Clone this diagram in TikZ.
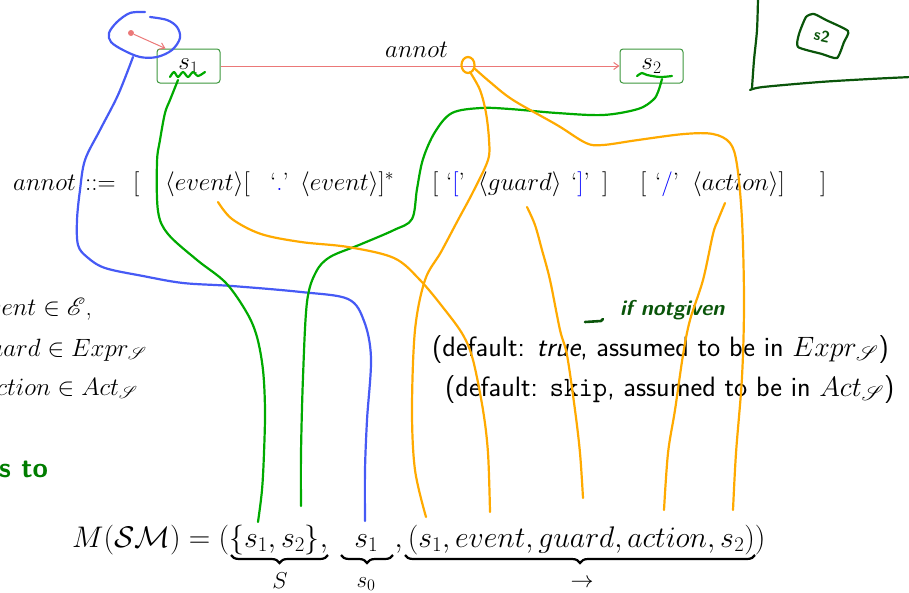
\RequirePackage{fix-cm}
\documentclass[tikz,border=0pt]{standalone}
\usepackage{mathrsfs}
\usetikzlibrary{arrows.meta,decorations.pathreplacing}
\definecolor{penblue}{RGB}{70,90,245}
\definecolor{pengreen}{RGB}{0,170,0}
\definecolor{penorange}{RGB}{255,170,0}
\definecolor{pendark}{RGB}{10,85,10}
\definecolor{boxgreen}{RGB}{60,150,60}
\definecolor{transred}{RGB}{235,120,120}
\definecolor{structgreen}{RGB}{0,125,0}
\begin{document}
\begin{tikzpicture}[x=1pt,y=-1pt,
  txt/.style={inner sep=0pt, anchor=base west, font=\fontsize{25}{30}\selectfont},
  txtr/.style={inner sep=0pt, anchor=base east, font=\fontsize{25}{30}\selectfont},
  sans/.style={inner sep=0pt, anchor=base west, font=\fontsize{28}{33}\selectfont\sffamily},
  statebox/.style={draw=boxgreen, line width=1pt, rounded corners=3pt, minimum width=63pt, minimum height=34pt, inner sep=0pt, font=\fontsize{25}{30}\selectfont},
  trans/.style={draw=transred, line width=1pt, -{Straight Barb[length=5pt,width=7pt]}},
  hand/.style={line width=2.2pt, line cap=round, line join=round},
  bluepen/.style={hand, draw=penblue},
  greenpen/.style={hand, draw=pengreen},
  orangepen/.style={hand, draw=penorange},
  darkpen/.style={hand, draw=pendark},
  ubrace/.style={draw=black, line width=2.2pt, decorate, decoration={brace, amplitude=8pt, aspect=0.5}},
  blabel/.style={inner sep=0pt, font=\fontsize{23}{27}\selectfont},
  q/.style={inner sep=0pt, anchor=base west, font=\fontsize{25}{30}\selectfont}]
\path[use as bounding box] (0,0) rectangle (909,592);
\clip (0,0) rectangle (909,592);

% state machine
\node[statebox] (s1) at (188.5,66) {$s_1$};
\node[statebox] (s2) at (651.5,66) {$s_2$};
\node[circle, fill=transred, inner sep=0pt, minimum size=6pt] (init) at (131,33) {};
\draw[trans] (init) -- ([xshift=9pt]s1.north west);
\draw[trans] (s1) -- (s2);
\node[txt] (lab) at (385,57) {$annot$};

% grammar line
\node[txt] (g1) at (13,190) {$annot$};
\node[txt] (g2) at (85,190) {$::=$};
\node[txt] (g3) at (133,190) {$[$};
\node[txt] (g4) at (165,190) {$\langle event\rangle[$};
\node[q] (g5) at (270,190) {\textquoteleft\textcolor{blue}{.}\textquoteright};
\node[txt] (g6) at (300,190) {$\langle event\rangle]^*$};
\node[txt] (g7) at (432,190) {$[$};
\node[q] (g8) at (446,190) {\textquoteleft\textcolor{blue}{[}\textquoteright};
\node[txt] (g9) at (478,190) {$\langle guard\rangle$};
\node[q] (g10) at (571,190) {\textquoteleft\textcolor{blue}{]}\textquoteright};
\node[txt] (g11) at (602,190) {$]$};
\node[txt] (g12) at (640,190) {$[$};
\node[q] (g13) at (655,190) {\textquoteleft\textcolor{blue}{/}\textquoteright};
\node[txt] (g14) at (692,190) {$\langle action\rangle]$};
\node[txt] (g15) at (820,190) {$]$};

% left column (cut off)
\node[txtr] (ev) at (92,315) {$event\in\mathscr{E}$,};
\node[txtr] (gu) at (147,356) {$guard\in Expr_{\mathscr{S}}$};
\node[txtr] (ac) at (138,395) {$action\in Act_{\mathscr{S}}$};

% defaults
\node[sans] (d1) at (432,356) {(default: \textit{true}, assumed to be in $Expr_{\mathscr{S}}$)};
\node[sans] (d2) at (445,396) {(default: \texttt{skip}, assumed to be in $Act_{\mathscr{S}}$)};

% heading fragment
\node[inner sep=0pt, anchor=base west, font=\fontsize{28}{33}\selectfont\sffamily\bfseries, text=structgreen] (hd) at (-1,477) {s to};

% formula
\node[inner sep=0pt, anchor=base west, font=\fontsize{29.8}{36}\selectfont] (fm) at (72,547)
  {$M(\mathcal{SM}) = \bigl(\{s_1,s_2\},\;\;\,s_1\;\;,(s_1,event,guard,action,s_2)\bigr)$};
\coordinate (b1r) at (328,555); \coordinate (b1l) at (231,555);
\coordinate (b2r) at (393,555); \coordinate (b2l) at (341,555);
\coordinate (b3r) at (755,555); \coordinate (b3l) at (405,555);
\draw[ubrace] (b1r) -- (b1l);
\draw[ubrace] (b2r) -- (b2l);
\draw[ubrace] (b3r) -- (b3l);
\node[blabel, anchor=base] (lS) at (280,588) {$S$};
\node[blabel, anchor=base] (ls0) at (366,587) {$s_0$};
\node[blabel, anchor=base] (lto) at (582,587) {$\to$};

% handwritten note
\draw[darkpen, line width=2.6pt] (585,322) -- (601,321) -- (603,319);
\node[inner sep=0pt, anchor=base west, font=\fontsize{21.5}{25}\selectfont\sffamily\bfseries\itshape, text=pendark] (note) at (620,315) {if notgiven};

% dark frame top right
\draw[darkpen] plot[smooth, tension=0.5] coordinates {(758,-2) (757,30) (754,60) (752,88)};
\draw[darkpen] plot[smooth, tension=0.5] coordinates {(750,90) (763,87) (820,82) (870,79) (911,77)};
\draw[darkpen] plot[smooth cycle, tension=0.35] coordinates {(806,17) (814,14) (826,20) (848,31) (844,42) (837,58) (822,54) (798,47) (799,34)};
\node[inner sep=0pt, rotate=-12, font=\fontsize{16}{19}\selectfont\sffamily\bfseries, text=pendark] (hs2) at (822,36) {s2};

% blue strokes
\draw[bluepen] plot[smooth, tension=0.55] coordinates {(145,12) (130,13) (117,22) (109,33) (111,42) (123,50) (140,57) (157,57) (172,50) (180,38) (177,27) (167,20) (150,17)};
\draw[bluepen] plot[smooth, tension=0.55] coordinates {(133,57) (118,95) (100,130) (85,160) (80,190) (77,220) (78,245) (87,257) (105,268) (143,276) (183,283) (232,286) (301,292) (348,299) (364,321) (371,358) (367,420) (365,470) (365,521)};

% green strokes
\draw[greenpen] plot[smooth, tension=0.5] coordinates {(170,77) (174,72) (178,77) (183,72) (188,77) (193,72) (198,76) (205,72)};
\draw[greenpen] plot[smooth, tension=0.55] coordinates {(178,80) (170,100) (165,113) (160,140) (157,162) (158,211) (168,234) (197,260) (226,283) (247,313) (257,337) (263,370) (265,410) (264,453) (262,490) (258,522)};
\draw[greenpen] plot[smooth, tension=0.5] coordinates {(637,76) (642,73) (647,75) (660,77) (672,76)};
\draw[greenpen] plot[smooth, tension=0.55] coordinates {(662,79) (658,92) (653,100) (638,109) (603,115) (557,113) (510,109) (481,108) (452,113) (435,132) (423,159) (417,189) (412,219) (394,230) (359,245) (330,257) (316,272) (307,302) (303,377) (301,453) (301,506)};

% orange strokes
\draw[orangepen] (468,65) ellipse [x radius=6.5pt, y radius=8pt];
\draw[orangepen] plot[smooth, tension=0.55] coordinates {(470,72) (480,90) (486,113) (489,140) (488,160) (473,192) (458,220) (441,252) (425,280) (415,330) (412,410) (415,470) (426,517)};
\draw[orangepen] plot[smooth, tension=0.55] coordinates {(474,68) (490,82) (513,100) (557,125) (586,143) (603,145) (638,140) (684,134) (713,134) (730,143) (737,165) (742,220) (744,302) (742,377) (736,453) (733,510)};
\draw[orangepen] plot[smooth, tension=0.55] coordinates {(218,202) (232,219) (261,234) (301,242) (348,247) (394,258) (420,280) (445,310) (463,335) (473,360) (483,410) (488,453) (490,512)};
\draw[orangepen] plot[smooth, tension=0.55] coordinates {(527,207) (535,225) (542,250) (550,280) (560,330) (567,355) (575,410) (580,453) (583,498)};
\draw[orangepen] plot[smooth, tension=0.55] coordinates {(725,203) (718,220) (713,234) (703,280) (690,320) (683,355) (675,410) (668,453) (664,510)};
\end{tikzpicture}
\end{document}
